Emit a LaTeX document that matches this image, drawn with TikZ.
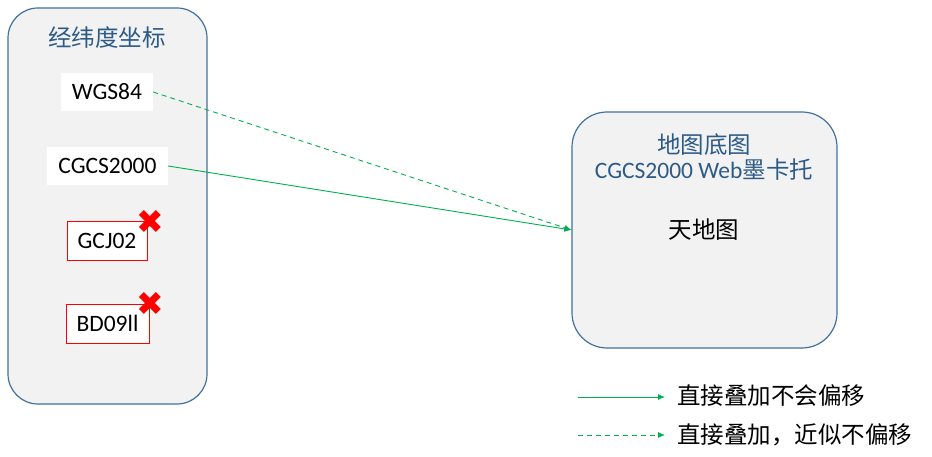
\documentclass[tikz,border=0pt]{standalone}
\usepackage{fontspec}
\usepackage{tikz}
\usetikzlibrary{arrows.meta}
\setmainfont{Carlito}
\newfontfamily\cjk{Noto Sans CJK SC}
\newfontfamily\symb{DejaVu Sans}
\definecolor{boxline}{HTML}{41719C}
\definecolor{boxfill}{HTML}{F2F2F2}
\definecolor{titleblue}{HTML}{2E5A86}
\definecolor{okgreen}{HTML}{00B050}
\newcommand{\crossMark}[0]{{\symb\fontsize{33}{33}\selectfont ✖}}

\begin{document}
\begin{tikzpicture}[x=1pt, y=-1pt,
  font=\fontsize{23.5}{27}\selectfont,
  region/.style={draw=boxline, fill=boxfill, line width=1.2pt, rounded corners=30pt},
  crs/.style={fill=white, inner sep=0pt, text height=15pt, text depth=0pt},
  badcrs/.style={crs, draw=red, line width=0.9pt},
  fit arrow/.style={okgreen, line width=0.9pt, -{Latex[length=7pt,width=6pt]}},
  near arrow/.style={fit arrow, dash pattern=on 5pt off 4pt}]
  \useasboundingbox (0,0) rectangle (932,457);

  % coordinate systems
  \node[region, minimum width=199pt, minimum height=396pt] (coords) at (107.5,206) {};
  \node[text=titleblue] (coordsTitle) at (107,38) {\cjk 经纬度坐标};
  \node[crs, minimum width=92pt, minimum height=38pt] (wgs) at (107,92) {WGS84};
  \node[crs, minimum width=121pt, minimum height=38pt] (cgcs) at (107.5,166) {CGCS2000};
  \node[badcrs, minimum width=80pt, minimum height=39pt] (gcj) at (107,240.5) {GCJ02};
  \node[badcrs, minimum width=83pt, minimum height=39pt] (bd) at (107.5,323.5) {BD09ll};
  \node[text=red, inner sep=0pt] (gcjX) at (150,222) {\crossMark};
  \node[text=red, inner sep=0pt] (bdX) at (150,304) {\crossMark};

  % base map
  \node[region, rounded corners=35pt, minimum width=265pt, minimum height=236pt] (map) at (704.5,230) {};
  \node[text=titleblue, align=center, inner sep=0pt] (mapTitle) at (704,157)
    {{\cjk 地图底图}\\[-2pt]CGCS2000 Web{\cjk 墨卡托}};
  \node (tdt) at (704,230) {\cjk 天地图};

  \draw[near arrow] (wgs.east) -- (map.west);
  \draw[fit arrow] (cgcs.east) -- (map.west);

  % legend
  \coordinate (solidA) at (578,397);
  \coordinate (solidB) at (665,397);
  \coordinate (dashA) at (578,435);
  \coordinate (dashB) at (665,435);
  \draw[fit arrow] (solidA) -- (solidB);
  \draw[near arrow] (dashA) -- (dashB);
  \node[anchor=west, inner sep=0pt] (solidText) at (677,396) {\cjk 直接叠加不会偏移};
  \node[anchor=west, inner sep=0pt] (dashText) at (677,435) {\cjk 直接叠加，近似不偏移};
\end{tikzpicture}
\end{document}
